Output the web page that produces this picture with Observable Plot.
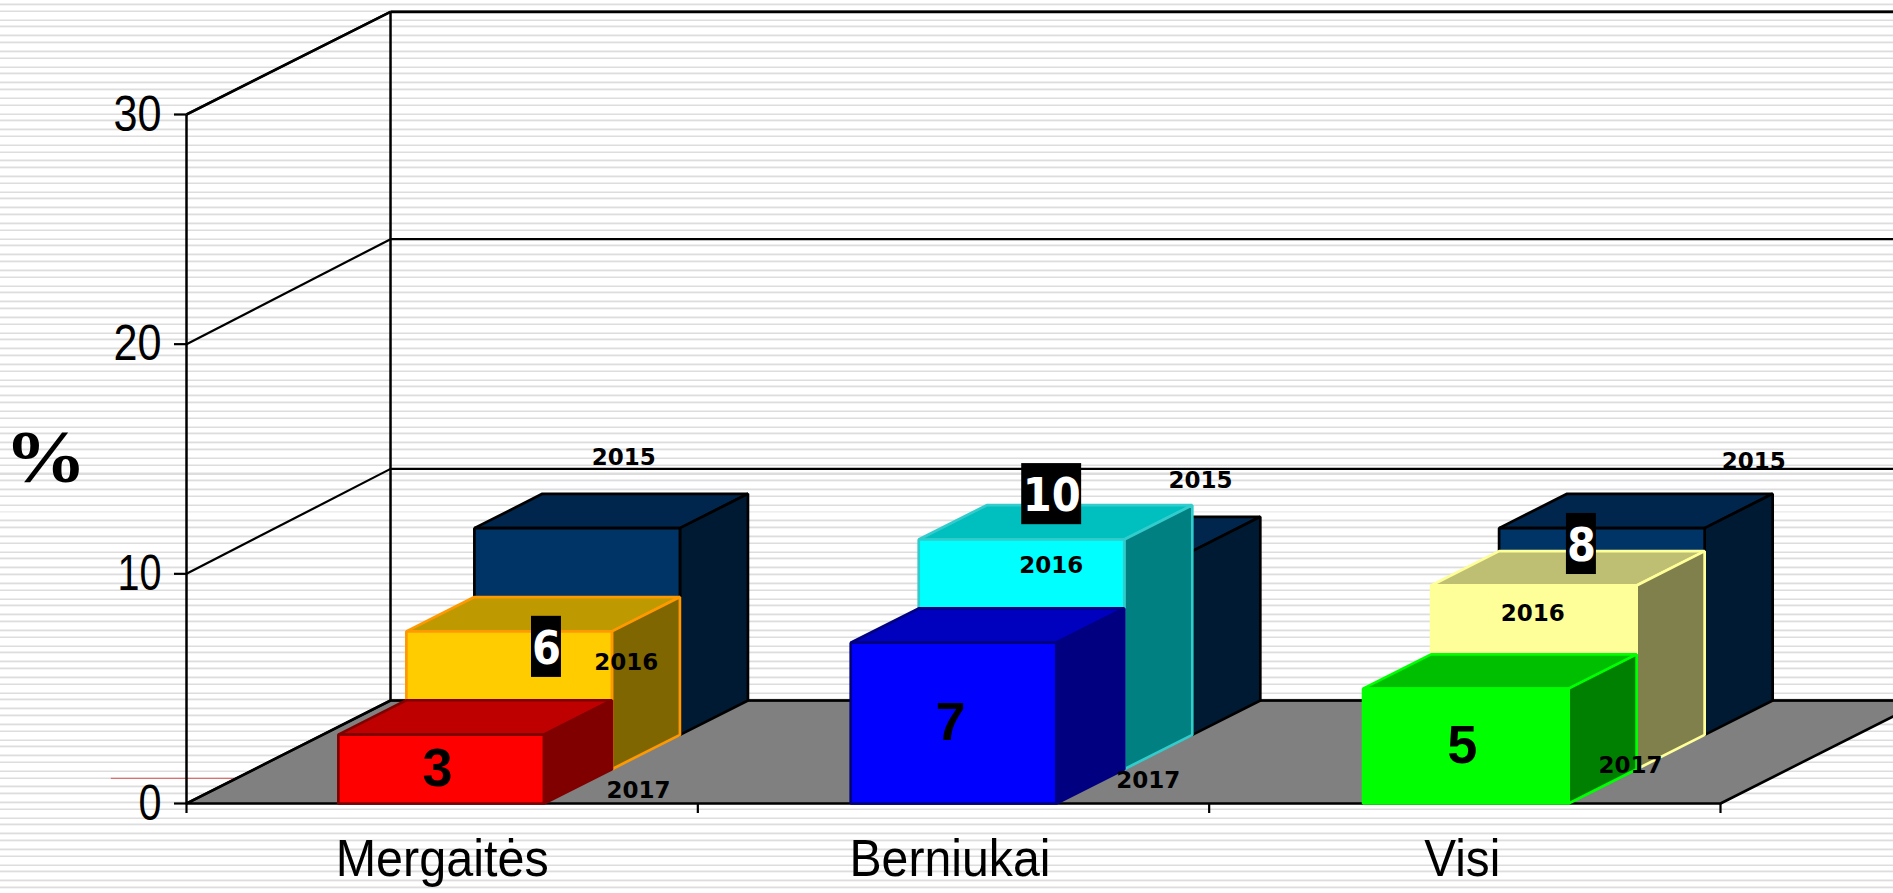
<!DOCTYPE html>
<html>
<head>
<meta charset="utf-8">
<script src="https://cdn.jsdelivr.net/npm/d3@7"></script>
<script src="https://cdn.jsdelivr.net/npm/@observablehq/plot@0.6"></script>
<style>
html,body{margin:0;padding:0;overflow:hidden;background-color:#fff;
background-image:repeating-linear-gradient(to bottom,
#fff 0,#fff 3px,#eee 3px,#eee 4px,#ddd 4px,#ddd 5px,#f4f4f4 5px,#f4f4f4 5.6px,#fff 5.6px,
#fff 9.7px,#eee 9.7px,#eee 10.7px,#ddd 10.7px,#ddd 11.7px,#f4f4f4 11.7px,#f4f4f4 12.3px,#fff 12.3px,#fff 15.65px);}
</style>
</head>
<body>
<div id="chart"></div>
<script>
const categories = ["Mergaitės", "Berniukai", "Visi"];
const years = ["2015", "2016", "2017"];
const values2015 = [9, 8, 9];
const values2016 = [6, 10, 8];
const values2017 = [3, 7, 5];
const yTicks = [0, 10, 20, 30];

// value labels (white on black for 2016, black at mid-bar for 2017)
const boxedLabelX = [0.704, 1.692, 2.728];
const boxedLabelY = [6.82, 13.47, 11.3];
const plainLabelX = [0.491, 1.494, 2.495];

// year labels, [category, year] in chart units
const yearLabelX = [[0.855, 0.860, 0.884], [1.983, 1.691, 1.881], [3.065, 2.633, 2.824]];
const yearLabelY = [[15.05, 6.14, 0.57], [14.04, 10.36, 1.0], [14.9, 8.28, 1.65]];

// styling
const palette = {
  2015: [["#003366","#00264d","#001a33","#000000"],["#003366","#00264d","#001a33","#000000"],["#003366","#00264d","#001a33","#000000"]],
  2016: [["#ffcc00","#bf9900","#806600","#ff9900"],["#00ffff","#00bfbf","#008080","#33cccc"],["#ffff99","#bfbf73","#80804d","#ffff99"]],
  2017: [["#ff0000","#bf0000","#800000","#800000"],["#0000ff","#0000bf","#000080","#000080"],["#00ff00","#00bf00","#008000","#00ff00"]]
};
// condensed widths of the narrow sans labels, in pixels
const squeezed = {"0": 23, "10": 44, "20": 48, "30": 48, "Mergaitės": 213, "Berniukai": 201, "Visi": 76, "%": 82};

const DX = 0.399, DY = 4.484;            // whole floor depth in x units and %
const slotDepth = 1 / 3;
const barStart = [0.297, 0.299, 0.301], barWidth = 0.402;
const backGrid = [4.484, 14.57, 24.57, 34.47];
const categoryCentres = [0.5, 1.493, 2.495];
const p = (x, v, d) => ({x: x + d * DX, y: v + d * DY});

const series = [
  {year: 2015, values: values2015, depth: 2 * slotDepth},
  {year: 2016, values: values2016, depth: 1 * slotDepth},
  {year: 2017, values: values2017, depth: 0}
];

const polys = [];
let pid = 0;
const quad = (pts, fill, stroke) => {
  pid++;
  pts.forEach(q => polys.push({...q, id: pid, fill, stroke}));
};
for (const s of series) {
  s.values.forEach((v, i) => {
    const [front, top, side, edge] = palette[s.year][i];
    const x0 = i + barStart[i], x1 = x0 + barWidth;
    const d0 = s.depth, d1 = s.depth + slotDepth;
    quad([p(x0, v, d0), p(x1, v, d0), p(x1, v, d1), p(x0, v, d1)], top, edge);
    quad([p(x1, 0, d0), p(x1, v, d0), p(x1, v, d1), p(x1, 0, d1)], side, edge);
    quad([p(x0, 0, d0), p(x1, 0, d0), p(x1, v, d0), p(x0, v, d0)], front, edge);
  });
}

const floor = [p(0, 0, 0), p(3, 0, 0), p(3, 0, 1), p(0, 0, 1)];
const sideLines = yTicks.map((v, i) => ({x1: 0, y1: v, x2: DX, y2: backGrid[i]}));
const backLines = yTicks.map((v, i) => ({x1: DX, y1: backGrid[i], x2: 3 + DX, y2: backGrid[i]}));
const verticals = [
  {x1: 0, y1: 0, x2: 0, y2: 30},
  {x1: DX, y1: DY, x2: DX, y2: backGrid[3]}
];

const yearLabels = [];
categories.forEach((c, i) => years.forEach((y, j) =>
  yearLabels.push({x: yearLabelX[i][j], y: yearLabelY[i][j], t: y})));

const boxed = values2016.map((v, i) => ({
  x: boxedLabelX[i], y: boxedLabelY[i], t: String(v), hw: String(v).length * 0.0293, hh: 1.33
}));
const plain = values2017.map((v, i) => ({x: plainLabelX[i], y: v / 2, t: String(v)}));

const sans = "'Liberation Sans',sans-serif";
const link = {x1: "x1", y1: "y1", x2: "x2", y2: "y2", stroke: "#000"};
const chart = Plot.plot({
  width: 1893, height: 893,
  marginLeft: 186, marginRight: 173, marginTop: 114, marginBottom: 90,
  x: {domain: [0, 3], axis: null},
  y: {domain: [0, 30], axis: null},
  style: {background: "transparent"},
  marks: [
    Plot.link([{x1: -0.148, y1: 1.09, x2: 0.1, y2: 1.09}], {...link, stroke: "#dc7070", strokeWidth: 1.2}),
    Plot.line(floor, {x: "x", y: "y", curve: "linear-closed", fill: "#808080", stroke: "#000", strokeWidth: 2.6}),
    Plot.link(sideLines, {...link, strokeWidth: 2.2}),
    Plot.link(backLines, {...link, strokeWidth: 2.2}),
    Plot.link(sideLines.slice(3), {...link, strokeWidth: 2.7}),
    Plot.link(backLines.slice(3), {...link, strokeWidth: 2.7}),
    Plot.link(verticals, {...link, strokeWidth: 2.5}),
    Plot.line(polys, {x: "x", y: "y", z: "id", curve: "linear-closed", fill: "fill", stroke: "stroke", strokeWidth: 2.7, strokeLinejoin: "miter"}),
    Plot.axisY({ticks: yTicks, tickSize: 12, tickPadding: 13, fontSize: 50, fontFamily: sans, fill: "#000", stroke: "#000", strokeWidth: 2.2, label: null, anchor: "left"}),
    Plot.axisX({ticks: [0, 1, 2, 3], tickSize: 10, tickFormat: () => "", stroke: "#000", strokeWidth: 2.2, label: null, anchor: "bottom"}),
    Plot.axisX({ticks: categoryCentres, tickSize: 0, tickPadding: 36, tickFormat: t => categories[Math.floor(t)], fontSize: 52, fontFamily: sans, fill: "#000", label: null, anchor: "bottom"}),
    Plot.text(["%"], {frameAnchor: "left", dx: -141, dy: -1, fontFamily: "'Liberation Serif',serif", fontWeight: "bold", fontSize: 74, fill: "#000", textAnchor: "middle"}),
    Plot.text(yearLabels, {x: "x", y: "y", text: "t", fontFamily: "'DejaVu Sans',sans-serif", fontWeight: "bold", fontSize: 23, fill: "#000"}),
    Plot.rect(boxed, {x1: d => d.x - d.hw, x2: d => d.x + d.hw, y1: d => d.y - d.hh, y2: d => d.y + d.hh, fill: "#000"}),
    Plot.text(boxed, {x: "x", y: "y", dy: 2, text: "t", fontFamily: "'DejaVu Sans',sans-serif", fontWeight: "bold", fontSize: 47, fill: "#fff"}),
    Plot.text(plain, {x: "x", y: "y", text: "t", fontFamily: sans, fontWeight: "bold", fontSize: 54, fill: "#000"})
  ]
});
chart.querySelectorAll('g[aria-label="y-axis tick label"] text, g[aria-label="x-axis tick label"] text').forEach(t => {
  const w = squeezed[t.textContent];
  if (w) { t.setAttribute("textLength", w); t.setAttribute("lengthAdjust", "spacingAndGlyphs"); }
});
chart.querySelectorAll("text").forEach(t => {
  if (t.textContent === "%") { t.setAttribute("textLength", squeezed["%"]); t.setAttribute("lengthAdjust", "spacingAndGlyphs"); }
  if (t.getAttribute("fill") === "#fff" || t.parentNode.getAttribute("fill") === "#fff") {
    t.setAttribute("textLength", 29 * t.textContent.length); t.setAttribute("lengthAdjust", "spacingAndGlyphs");
  }
});
document.getElementById("chart").appendChild(chart);
</script>
</body>
</html>
